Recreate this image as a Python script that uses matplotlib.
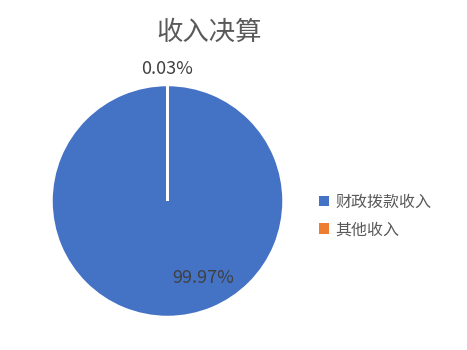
import matplotlib.pyplot as plt
from matplotlib.patches import Patch

plt.rcParams['font.family'] = ['Noto Sans CJK SC', 'DejaVu Sans']

title = '收入决算'
categories = ['财政拨款收入', '其他收入']
values = [99.97, 0.03]
labels = ['99.97%', '0.03%']
colors = ['#4472C4', '#ED7D31']

fig = plt.figure(figsize=(4.67, 3.5), dpi=100)

# 饼图区域（按像素位置换算）
cx, cy, r = 167.5 / 467, 1 - 201 / 350, 116
ax = fig.add_axes([cx - r / 467, cy - r / 350, 2 * r / 467, 2 * r / 350])
ax.pie(values, colors=colors, startangle=90, counterclock=False, radius=1,
       wedgeprops=dict(edgecolor='white', linewidth=1.8))
ax.set_xlim(-1, 1)
ax.set_ylim(-1, 1)
ax.set_aspect('equal')
ax.axis('off')

# 数据标签
ax.text(0.31, -0.66, labels[0], ha='center', va='center', fontsize=13, color='#404040')
ax.text(0.0, 1.14, labels[1], ha='center', va='center', fontsize=13, color='#404040')

fig.text(209 / 467, 1 - 32 / 350, title, ha='center', va='center', fontsize=19, color='#595959')

handles = [Patch(facecolor=c, edgecolor='none') for c in colors]
fig.legend(handles, categories, loc='center left', bbox_to_anchor=(305 / 467, 1 - 216 / 350),
           frameon=False, fontsize=11.5, labelcolor='#595959', handlelength=0.6, handleheight=0.6,
           handletextpad=0.4, labelspacing=0.65)

fig.savefig('out.png', dpi=100)
